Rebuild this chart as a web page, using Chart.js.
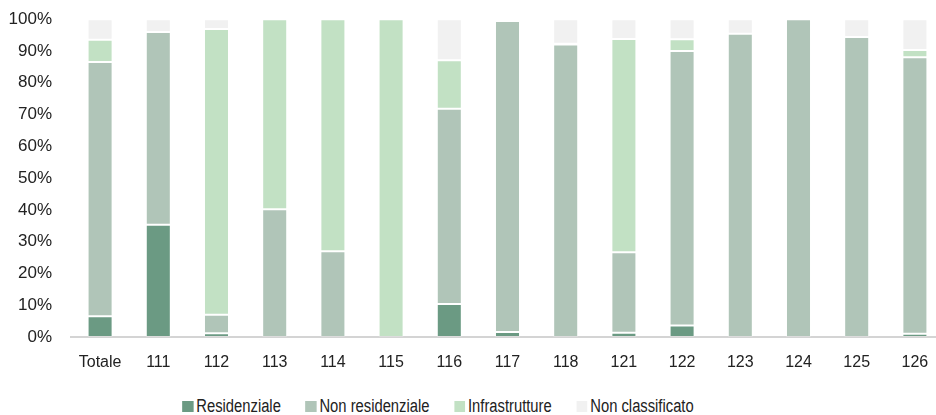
<!DOCTYPE html>
<html>
<head>
<meta charset="utf-8">
<script src="https://cdn.jsdelivr.net/npm/chart.js@4/dist/chart.umd.min.js"></script>
<style>
  html, body { margin: 0; padding: 0; background: #fff; overflow: hidden; }
  #wrap { position: relative; width: 936px; height: 415px; overflow: hidden; }
  #chart { position: absolute; left: 0; top: -10px; }
  #legend {
    position: absolute; left: 0; top: 395px; width: 876px;
    display: flex; justify-content: center; gap: 30px;
    transform: scaleX(0.82); transform-origin: 438px 0;
    font-family: "Liberation Sans", Arial, sans-serif;
    font-size: 18px; line-height: 22px; color: #222;
  }
  #legend span.item { display: inline-flex; align-items: baseline; white-space: nowrap; }
  #legend span.box { display: inline-block; width: 13.4px; height: 11px; margin-right: 3.7px; }
</style>
</head>
<body>
<div id="wrap">
  <canvas id="chart" width="946" height="392"></canvas>
  <div id="legend"></div>
</div>
<script>
const categories = ['Totale', '111', '112', '113', '114', '115', '116', '117', '118', '121', '122', '123', '124', '125', '126'];
const residenziale = [6.5, 35.3, 1.2, 0, 0, 0, 10.4, 1.6, 0, 1.3, 3.6, 0, 0, 0, 1.0];
const nonResidenziale = [80.0, 60.7, 5.8, 40.2, 27.0, 0, 61.4, 97.8, 92.0, 25.4, 86.4, 95.4, 100, 94.4, 87.0];
const infrastrutture = [7.0, 0, 89.9, 59.8, 73.0, 100, 15.3, 0, 0.3, 67.1, 3.7, 0, 0, 0, 2.3];
const nonClassificato = [6.5, 4.0, 3.1, 0, 0, 0, 12.9, 0.6, 7.7, 6.2, 6.3, 4.6, 0, 5.6, 9.7];
const yTicks = [0, 10, 20, 30, 40, 50, 60, 70, 80, 90, 100];

const seriesNames = ['Residenziale', 'Non residenziale', 'Infrastrutture', 'Non classificato'];
const seriesColors = ['#6b9a83', '#b0c5b8', '#c2e1c4', '#f1f1f1'];
const seriesData = [residenziale, nonResidenziale, infrastrutture, nonClassificato];

const FONT = '"Liberation Sans", Arial, sans-serif';

new Chart(document.getElementById('chart'), {
    type: 'bar',
    data: {
        labels: categories,
        datasets: seriesData.map((d, i) => ({
            label: seriesNames[i],
            data: d,
            backgroundColor: seriesColors[i],
            borderColor: 'rgba(255,255,255,0.2)',
            borderWidth: 1,
            borderSkipped: false,
            barPercentage: 1,
            categoryPercentage: 0.43
        }))
    },
    options: {
        responsive: false,
        devicePixelRatio: 1,
        animation: false,
        layout: { padding: { left: 9, right: 2, top: 0, bottom: 0 } },
        plugins: {
            legend: { display: false },
            tooltip: { enabled: false }
        },
        scales: {
            x: {
                stacked: true,
                afterFit: axis => { axis.height = 45; },
                grid: { display: false, drawTicks: false },
                border: { display: true, color: '#d4d4d4', width: 2 },
                ticks: { color: '#222', padding: 16, font: { family: FONT, size: 16 } }
            },
            y: {
                stacked: true,
                min: 0,
                max: 100,
                afterBuildTicks: axis => { axis.ticks = yTicks.map(v => ({ value: v })); },
                afterFit: axis => { axis.width = 62; },
                grid: { display: false, drawTicks: false },
                border: { display: false },
                ticks: {
                    color: '#222',
                    padding: 19,
                    font: { family: FONT, size: 17 },
                    callback: v => v + '%'
                }
            }
        }
    }
});

// legend below the plot
const legendEl = document.getElementById('legend');
legendEl.innerHTML = seriesNames.map((n, i) =>
    `<span class="item"><span class="box" style="background:${seriesColors[i]}"></span>${n}</span>`).join('');
</script>
</body>
</html>
